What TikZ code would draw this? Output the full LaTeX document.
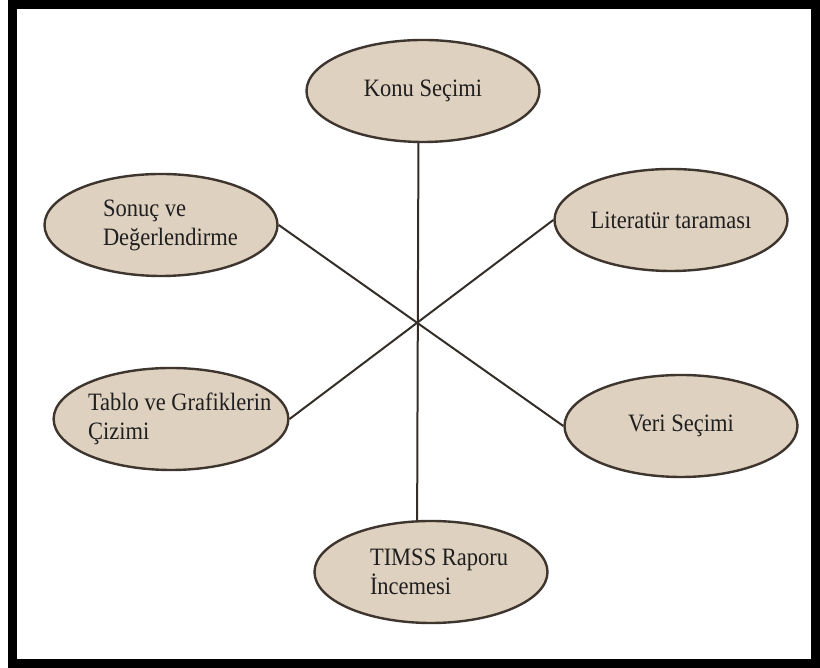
\documentclass[tikz,border=0pt]{standalone}
\usepackage{fontspec}
\setmainfont{Liberation Serif}[FakeStretch=0.9]
\usetikzlibrary{shapes.geometric}
\definecolor{ovalfill}{RGB}{222,209,192}
\definecolor{ovaledge}{RGB}{62,54,46}
\definecolor{spoke}{RGB}{52,46,40}
\tikzset{
	oval/.style={ellipse, draw=ovaledge, fill=ovalfill, line width=2.4pt, minimum width=233pt, minimum height=102pt, inner sep=0pt, font=\fontsize{25}{29}\selectfont, text=black!88},
	spokeline/.style={line width=2pt, color=spoke}
}

\begin{document}
\begin{tikzpicture}[x=1pt, y=1pt]
		%%%%% START %%%%%
		\useasboundingbox (0, 0) rectangle (820, 668);
		
		\draw[line width=9pt, color=black] (12.5, 4.5) rectangle (815.5, 663.5);
		
		\node[oval] (konu) at (423, 577) {Konu Seçimi};
		\node[oval, text width=116pt, align=flush left] (sonuc) at (161, 443) {\mbox{Sonuç ve}\\\mbox{Değerlendirme}};
		\node[oval] (literatur) at (671, 448) {Literatür taraması};
		
		\node[oval, text width=166pt, align=flush left] (tablo) at (171, 249) {\mbox{Tablo ve Grafiklerin}\\\mbox{Çizimi}};
		\node[oval] (veri) at (681, 242) {Veri Seçimi};
		\node[oval, text width=122pt, align=flush left] (timss) at (431, 96) {\mbox{TIMSS Raporu}\\\mbox{İncemesi}};
		
		\draw[spokeline] (konu.265) -- (timss.105);
		\draw[spokeline] (sonuc.east) -- (veri.west);
		\draw[spokeline] (literatur.west) -- (tablo.east);
		
		%%%%% END %%%%%
\end{tikzpicture}
\end{document}
